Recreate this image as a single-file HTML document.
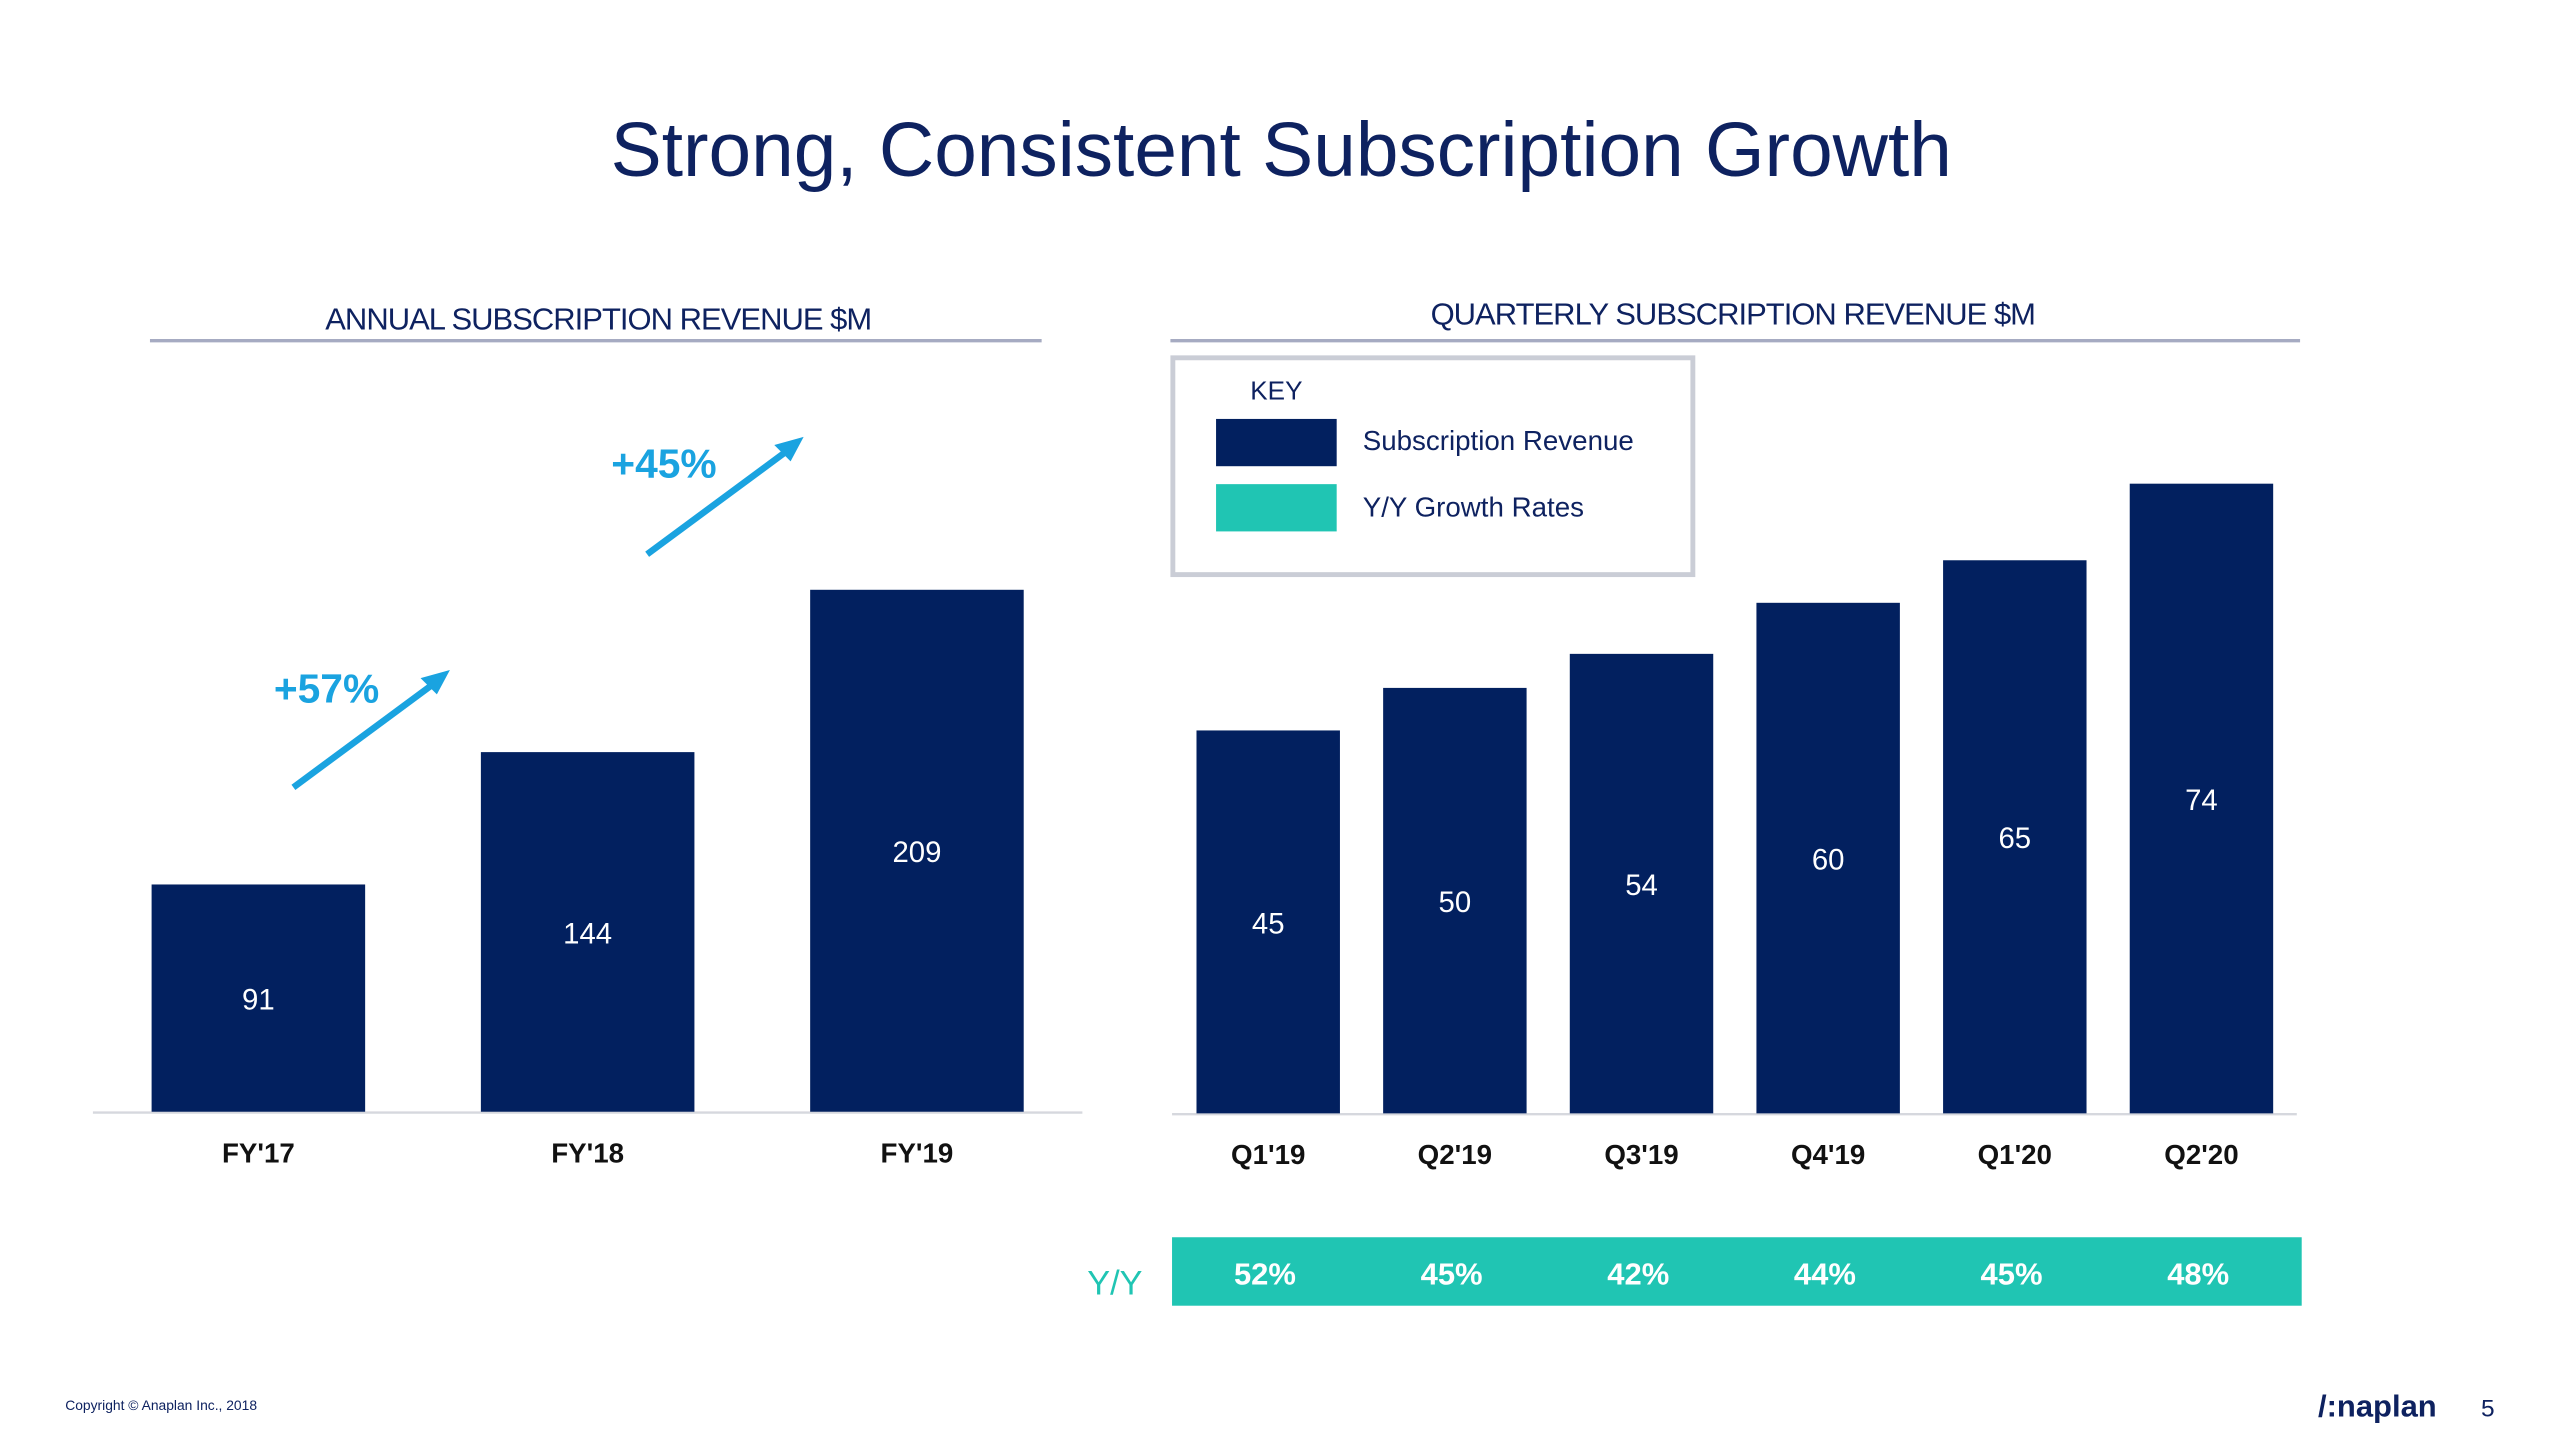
<!DOCTYPE html>
<html><head><meta charset="utf-8"><style>
html,body{margin:0;padding:0;background:#fff;overflow:hidden}
#stage{position:absolute;left:0;top:0;width:1568px;height:881px;transform:scale(1.63010);transform-origin:0 0;font-family:"Liberation Sans",sans-serif}
</style></head><body>
<div id="stage">
<svg id="svg" width="1568" height="881" viewBox="0 0 1568 881">
<text x="786" y="108" text-anchor="middle" font-size="47" fill="#0e2260" font-family="Liberation Sans, sans-serif">Strong, Consistent Subscription Growth</text>
<text x="367" y="202" text-anchor="middle" font-size="19" fill="#0e2260" letter-spacing="-0.6">ANNUAL SUBSCRIPTION REVENUE $M</text>
<line x1="92" y1="209" x2="639" y2="209" stroke="#a6abc2" stroke-width="2"/>
<text x="1063" y="199" text-anchor="middle" font-size="19" fill="#0e2260" letter-spacing="-0.6">QUARTERLY  SUBSCRIPTION REVENUE $M</text>
<line x1="718" y1="209" x2="1411" y2="209" stroke="#a6abc2" stroke-width="2"/>
<g>
<rect x="719.5" y="219.5" width="319" height="133" fill="#fff" stroke="#cacdd6" stroke-width="3"/>
<text x="767" y="245" font-size="16" fill="#0e2260">KEY</text>
<rect x="746" y="257" width="74" height="29" fill="#02205f"/>
<text x="836" y="276" font-size="17" fill="#0e2260">Subscription Revenue</text>
<rect x="746" y="297" width="74" height="29" fill="#20c5b3"/>
<text x="836" y="317" font-size="17" fill="#0e2260">Y/Y Growth Rates</text>
</g>
<g>
<line x1="180" y1="483" x2="268" y2="418" stroke="#1aa3e0" stroke-width="4"/>
<polygon points="276,411 258,416 268,426" fill="#1aa3e0"/>
<text x="168" y="431" font-size="25" font-weight="bold" fill="#1aa3e0">+57%</text>
</g>
<g>
<line x1="397" y1="340" x2="485" y2="275" stroke="#1aa3e0" stroke-width="4"/>
<polygon points="493,268 475,273 485,283" fill="#1aa3e0"/>
<text x="375" y="293" font-size="25" font-weight="bold" fill="#1aa3e0">+45%</text>
</g>
<rect x="719" y="759" width="693" height="42" fill="#20c5b3"/>
<text x="667" y="794" font-size="21" fill="#20c5b3">Y/Y</text>
<text x="40" y="865" font-size="8.5" fill="#0e2260">Copyright © Anaplan Inc., 2018</text>
<text x="1422" y="869" font-size="19" font-weight="bold" fill="#0e2260">/:naplan</text>
<text x="1522" y="869" font-size="15" fill="#0e2260">5</text>
<g id="annual"></g><g id="quarterly"></g>
</svg>
</div>
<script>
const annualCats = ["FY'17","FY'18","FY'19"];
const annualVals = [91,144,209];
const qCats = ["Q1'19","Q2'19","Q3'19","Q4'19","Q1'20","Q2'20"];
const qVals = [45,50,54,60,65,74];
const qGrowth = ["52%","45%","42%","44%","45%","48%"];

const NS="http://www.w3.org/2000/svg";
function mk(parent,tag,attrs,txt){const e=document.createElementNS(NS,tag);for(const k in attrs)e.setAttribute(k,attrs[k]);if(txt!==undefined)e.textContent=txt;parent.appendChild(e);return e;}

(function(){
  const g=document.getElementById('annual');
  const base=682, pxPer=1.532, x0=93, step=202, bw=131;
  const y=v=>base-v*pxPer;
  const ax=mk(g,'line',{x1:57,y1:base+0.5,x2:664,y2:base+0.5,stroke:'#d6d8de','stroke-width':1.5});
  
  
  annualCats.forEach((c,i)=>{
    const x=x0+i*step, v=annualVals[i];
    const r=mk(g,'rect',{x:x,y:y(v),width:bw,height:base-y(v),fill:'#02205f'});
    
    
    const t=mk(g,'text',{x:x+bw/2,y:(y(v)+base)/2+7,'text-anchor':'middle','font-size':18,fill:'#fff'},String(v));
    
    
    const l=mk(g,'text',{x:x+bw/2,y:713,'text-anchor':'middle','font-size':17,'font-weight':'bold',fill:'#111'},c);
    
    
  });
})();
(function(){
  const g=document.getElementById('quarterly');
  const base=683, pxPer=5.22, x0=734, step=114.5, bw=88;
  const y=v=>base-v*pxPer;
  const ax=mk(g,'line',{x1:719,y1:base+0.5,x2:1409,y2:base+0.5,stroke:'#d6d8de','stroke-width':1.5});
  
  
  qCats.forEach((c,i)=>{
    const x=x0+i*step, v=qVals[i];
    const r=mk(g,'rect',{x:x,y:y(v),width:bw,height:base-y(v),fill:'#02205f'});
    
    
    const t=mk(g,'text',{x:x+bw/2,y:(y(v)+base)/2+7,'text-anchor':'middle','font-size':18,fill:'#fff'},String(v));
    
    
    const l=mk(g,'text',{x:x+bw/2,y:714,'text-anchor':'middle','font-size':17,'font-weight':'bold',fill:'#111'},c);
    
    
    const gr=mk(g,'text',{x:x+bw/2-2,y:788,'text-anchor':'middle','font-size':19,'font-weight':'bold',fill:'#fff'},qGrowth[i]);
    
    
  });
})();
</script>
</body></html>
